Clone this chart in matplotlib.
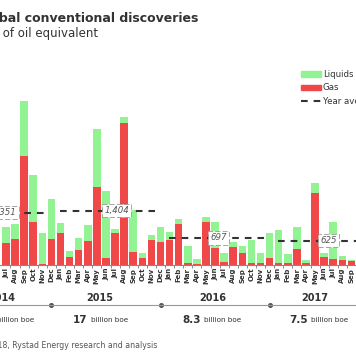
import matplotlib
matplotlib.use("Agg")
import matplotlib.pyplot as plt
import matplotlib.patches as mpatches
from matplotlib.lines import Line2D
from matplotlib.transforms import blended_transform_factory

# ─────────────────────────────────────────────
#  DATA  (million boe per month, Jul 2014 - Sep 2017)
# ─────────────────────────────────────────────
months = ["Jul", "Aug", "Sep", "Oct", "Nov", "Dec",
          "Jan", "Feb", "Mar", "Apr", "May", "Jun", "Jul", "Aug", "Sep", "Oct", "Nov", "Dec",
          "Jan", "Feb", "Mar", "Apr", "May", "Jun", "Jul", "Aug", "Sep", "Oct", "Nov", "Dec",
          "Jan", "Feb", "Mar", "Apr", "May", "Jun", "Jul", "Aug", "Sep"]

gas = [560, 670, 2820, 1100, 30, 660,
       830, 210, 390, 620, 2000, 170, 820, 3660, 330, 190, 650, 600,
       650, 1070, 60, 30, 1100, 430, 80, 470, 300, 40, 40, 170,
       60, 40, 410, 40, 1850, 200, 160, 130, 100]

liquids = [430, 390, 1420, 1220, 790, 1040,
           260, 150, 300, 410, 1520, 1740, 100, 160, 1090, 130, 130, 370,
           190, 120, 430, 130, 140, 670, 220, 130, 190, 600, 260, 650,
           840, 240, 580, 100, 270, 120, 960, 100, 30]

years       = ["2014", "2015", "2016", "2017"]
year_avg    = [1351, 1404, 697, 625]
avg_labels  = ["1,351", "1,404", "697", "625"]
year_totals = ["16", "17", "8.3", "7.5"]

# ─────────────────────────────────────────────
#  STYLE
# ─────────────────────────────────────────────
GREEN = "#92f392"
RED   = "#f04848"
DARK  = "#333333"

plt.rcParams["font.family"] = ["DejaVu Sans"]
plt.rcParams["lines.scale_dashes"] = False

fig = plt.figure(figsize=(3.56, 3.64), dpi=100)
ax = fig.add_axes([0, 99 / 364, 1, 205 / 364])

x = list(range(len(months)))
ax.bar(x, gas, width=0.83, color=RED, zorder=2)
ax.bar(x, liquids, bottom=gas, width=0.83, color=GREEN, zorder=2)

ax.set_xlim(-0.654, 38.17)
ax.set_ylim(0, 5290)

for s in ["top", "left", "right"]:
    ax.spines[s].set_visible(False)
ax.spines["bottom"].set_color("#888888")
ax.spines["bottom"].set_linewidth(0.8)
ax.set_yticks([])
ax.set_xticks(x)
ax.set_xticklabels(months, rotation=90, fontsize=5, color=DARK, fontweight="bold")
ax.tick_params(axis="x", length=0, pad=2)
ax.set_xticks([i + 0.5 for i in x], minor=True)
ax.tick_params(axis="x", which="minor", length=2, color="#777777", width=0.6)

# year average lines + labels
label_pos = [-0.2, 12.2, 23.4, 35.5]
for i, (avg, lab) in enumerate(zip(year_avg, avg_labels)):
    jan = -6 + 12 * i
    ax.plot([jan - 0.1, jan + 10.4], [avg, avg], color=DARK, lw=1.5,
            dashes=(4.8, 4.3), zorder=3)
    ax.text(label_pos[i], avg, lab, ha="center", va="center", fontsize=6.2,
            style="italic", color="#555555", zorder=4,
            bbox=dict(boxstyle="square,pad=0.25", fc="white", ec="#999999",
                      ls="--", lw=0.6))

# legend
handles = [mpatches.Patch(color=GREEN, label="Liquids"),
           mpatches.Patch(color=RED, label="Gas"),
           Line2D([], [], color=DARK, lw=1.5, dashes=(4.8, 4.3), label="Year average")]
fig.legend(handles=handles, loc="upper left", bbox_to_anchor=(301 / 356, 1 - 70 / 364),
           frameon=False, fontsize=6.2, handlelength=2.3, handleheight=0.55,
           handletextpad=0.25, labelspacing=0.5, borderpad=0, borderaxespad=0,
           labelcolor=DARK)

# titles (left part of the chart is cropped)
fig.text(198 / 356, 1 - 19 / 364, "Global conventional discoveries", ha="right",
         va="center", fontsize=9, fontweight="bold", color=DARK)
fig.text(98 / 356, 1 - 34 / 364, "Million barrels of oil equivalent", ha="right",
         va="center", fontsize=8.5, color=DARK)

# bottom year band
trans = blended_transform_factory(ax.transData, fig.transFigure)
fig.add_artist(Line2D([0, 1], [1 - 305 / 364] * 2, transform=fig.transFigure,
                      color="#999999", lw=0.8))
ax.plot([5, 17, 29], [1 - 305 / 364] * 3, "o", ms=2.6, color="#555555",
        transform=trans, clip_on=False)

year_pos = [-0.5, 10.3, 22.7, 34.0]
unit_pos = [-0.98, 9.38, 21.8, 33.6]
for yr, tot, xp, up in zip(years, year_totals, year_pos, unit_pos):
    ax.text(xp, 1 - 298 / 364, yr, transform=trans, ha="center", va="center",
            fontsize=7, fontweight="bold", color=DARK)
    ax.text(up - 0.4, 1 - 320 / 364, tot, transform=trans, ha="right", va="center",
            fontsize=7.5, fontweight="bold", color=DARK)
    ax.text(up, 1 - 320 / 364, "billion boe", transform=trans, ha="left", va="center",
            fontsize=5.2, color=DARK)

fig.text(157 / 356, 1 - 345 / 364,
         "Source: Rystad Energy UCube, June 2018, Rystad Energy research and analysis",
         ha="right", va="center", fontsize=5.6, color="#555555")

fig.savefig("out.png", dpi=100)
